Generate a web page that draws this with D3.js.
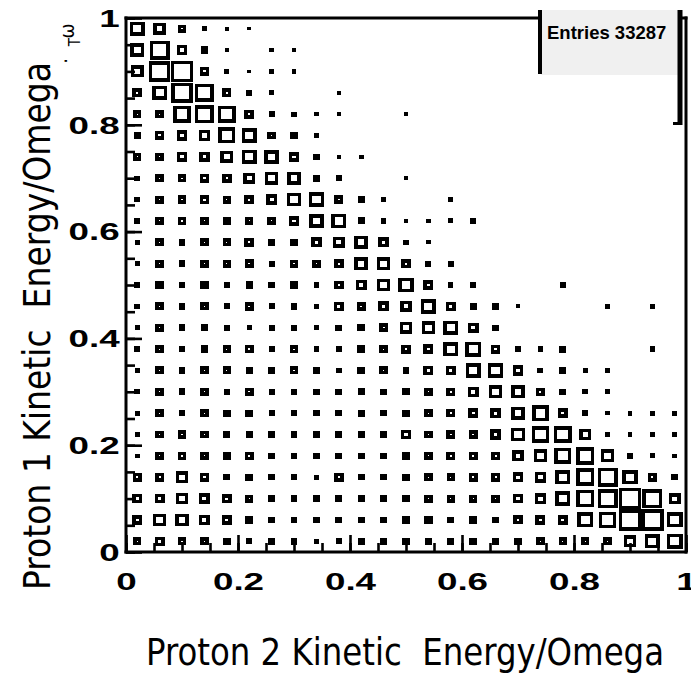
<!DOCTYPE html>
<html>
<head>
<meta charset="utf-8">
<script src="https://cdn.jsdelivr.net/npm/d3@7"></script>
<style>
  body { margin: 0; background: #fff; }
  svg { display: block; }
</style>
</head>
<body>
<div id="graph"></div>
<script>
const width = 691;
const height = 673;

// Bin contents (percent of the fullest bin), 25 x 25 bins.
// r00 is the bottom row (Proton 1 = 0..0.04), first value is Proton 2 = 0..0.04
const r24 = [67, 55, 37, 22, 19, 17, 0, 0, 0, 0, 0, 0, 0, 0, 0, 0, 0, 0, 0, 0, 0, 0, 0, 0, 0];
const r23 = [64, 89, 48, 34, 19, 0, 21, 22, 0, 0, 0, 0, 0, 0, 0, 0, 0, 0, 0, 0, 0, 0, 0, 0, 0];
const r22 = [57, 97, 100, 42, 24, 16, 22, 22, 0, 0, 0, 0, 0, 0, 0, 0, 0, 0, 0, 0, 0, 0, 0, 0, 0];
const r21 = [42, 67, 95, 85, 40, 28, 22, 0, 0, 18, 0, 0, 0, 0, 0, 0, 0, 0, 0, 0, 0, 0, 0, 0, 0];
const r20 = [36, 37, 79, 85, 80, 42, 27, 24, 20, 18, 0, 0, 20, 0, 0, 0, 0, 0, 0, 0, 0, 0, 0, 0, 0];
const r19 = [33, 42, 49, 52, 75, 67, 37, 33, 25, 0, 0, 0, 0, 0, 0, 0, 0, 0, 0, 0, 0, 0, 0, 0, 0];
const r18 = [36, 37, 48, 46, 57, 67, 64, 45, 30, 18, 21, 0, 0, 0, 0, 0, 0, 0, 0, 0, 0, 0, 0, 0, 0];
const r17 = [25, 37, 37, 42, 42, 52, 60, 60, 31, 27, 0, 0, 20, 0, 0, 0, 0, 0, 0, 0, 0, 0, 0, 0, 0];
const r16 = [25, 37, 40, 42, 37, 42, 49, 64, 69, 40, 30, 25, 0, 0, 24, 0, 0, 0, 0, 0, 0, 0, 0, 0, 0];
const r15 = [25, 37, 40, 37, 34, 37, 37, 45, 64, 67, 33, 25, 22, 19, 24, 25, 0, 0, 0, 0, 0, 0, 0, 0, 0];
const r14 = [22, 37, 31, 37, 37, 42, 34, 34, 46, 52, 60, 48, 25, 19, 0, 0, 0, 0, 0, 0, 0, 0, 0, 0, 0];
const r13 = [22, 37, 31, 37, 37, 39, 27, 37, 37, 42, 60, 60, 42, 27, 27, 0, 0, 0, 0, 0, 0, 0, 0, 0, 0];
const r12 = [25, 37, 31, 37, 27, 33, 31, 37, 25, 42, 49, 60, 67, 45, 24, 27, 0, 0, 0, 25, 0, 0, 0, 0, 0];
const r11 = [25, 37, 31, 37, 27, 40, 27, 30, 25, 45, 39, 48, 52, 67, 45, 33, 30, 19, 0, 0, 0, 25, 0, 25, 0];
const r10 = [22, 37, 31, 31, 27, 24, 27, 30, 25, 30, 34, 40, 55, 60, 66, 48, 30, 0, 0, 0, 0, 0, 0, 0, 0];
const r09 = [25, 37, 31, 34, 37, 39, 27, 37, 25, 27, 34, 37, 42, 45, 66, 70, 42, 27, 25, 33, 0, 0, 0, 25, 0];
const r08 = [22, 37, 31, 37, 37, 33, 31, 37, 30, 27, 34, 37, 30, 45, 45, 67, 69, 49, 27, 33, 22, 25, 0, 0, 0];
const r07 = [25, 37, 31, 37, 27, 39, 27, 30, 30, 30, 33, 30, 34, 37, 40, 49, 60, 61, 40, 30, 25, 22, 0, 0, 0];
const r06 = [22, 37, 31, 37, 34, 34, 27, 30, 30, 30, 33, 30, 34, 37, 40, 45, 48, 61, 75, 45, 25, 20, 22, 24, 22];
const r05 = [22, 37, 40, 37, 30, 30, 30, 30, 30, 30, 30, 30, 45, 37, 40, 40, 48, 64, 79, 79, 55, 20, 22, 24, 22];
const r04 = [22, 37, 40, 37, 34, 39, 30, 30, 30, 30, 30, 30, 34, 37, 40, 40, 40, 52, 60, 75, 82, 60, 25, 24, 22];
const r03 = [40, 40, 57, 42, 30, 34, 30, 30, 25, 42, 30, 30, 34, 37, 37, 40, 40, 45, 50, 67, 82, 89, 67, 40, 30];
const r02 = [45, 45, 54, 49, 43, 37, 30, 30, 30, 30, 30, 30, 34, 37, 37, 37, 37, 45, 52, 67, 82, 89, 100, 89, 52];
const r01 = [45, 60, 60, 49, 43, 37, 30, 30, 30, 30, 30, 30, 34, 37, 30, 34, 30, 42, 45, 45, 70, 79, 100, 100, 70];
const r00 = [37, 45, 37, 37, 34, 27, 30, 30, 22, 27, 30, 30, 34, 30, 30, 34, 30, 34, 37, 37, 37, 37, 57, 67, 70];

const majorTicks = [0, 0.2, 0.4, 0.6, 0.8, 1];
const xTitle = 'Proton 2 Kinetic  Energy/Omega';
const yTitle = 'Proton 1 Kinetic  Energy/Omega';
const entries = 33287;
const nBins = 25;

const rows = [r00, r01, r02, r03, r04, r05, r06, r07, r08, r09, r10, r11, r12,
  r13, r14, r15, r16, r17, r18, r19, r20, r21, r22, r23, r24];

const svg = d3.select('#graph')
  .append('svg')
  .attr('width', width)
  .attr('height', height);

const xScale = d3.scaleLinear().domain([0, 1]).range([126, 686]);
const yScale = d3.scaleLinear().domain([0, 1]).range([552, 18]);
const maxCount = d3.max(rows.flat());
const sizeScale = d3.scaleLinear().domain([0, maxCount]).range([0, 1]);

svg.append('clipPath').attr('id', 'frame')
  .append('rect')
  .attr('x', xScale(0)).attr('y', yScale(1))
  .attr('width', xScale(1) - xScale(0))
  .attr('height', yScale(0) - yScale(1));

// Boxes: black outer square with a white hole (hole vanishes for small bins)
const cells = [];
rows.forEach((row, j) => row.forEach((v, i) => { if (v > 0) cells.push({ i, j, v }); }));
const bw = xScale(1 / nBins) - xScale(0);
const bh = yScale(0) - yScale(1 / nBins);
const edge = 3.5;

const boxes = svg.append('g')
  .attr('clip-path', 'url(#frame)')
  .attr('shape-rendering', 'crispEdges')
  .selectAll('g')
  .data(cells)
  .join('g')
  .attr('transform', d => `translate(${xScale((d.i + 0.5) / nBins)},${yScale((d.j + 0.5) / nBins)})`);

boxes.append('rect')
  .attr('x', d => -Math.max(sizeScale(d.v) * bw, 3.5) / 2)
  .attr('y', d => -Math.max(sizeScale(d.v) * bh, 3) / 2)
  .attr('width', d => Math.max(sizeScale(d.v) * bw, 3.5))
  .attr('height', d => Math.max(sizeScale(d.v) * bh, 3))
  .attr('fill', '#000');

boxes.filter(d => sizeScale(d.v) * bw - 2 * edge > 0.8)
  .append('rect')
  .attr('x', d => -(sizeScale(d.v) * bw - 2 * edge) / 2)
  .attr('y', d => -Math.max(sizeScale(d.v) * bh - 2 * edge, 0.8) / 2)
  .attr('width', d => sizeScale(d.v) * bw - 2 * edge)
  .attr('height', d => Math.max(sizeScale(d.v) * bh - 2 * edge, 0.8))
  .attr('fill', '#fff');

// Axes (ticks point into the frame)
const labelFont = '"Liberation Sans", Arial, sans-serif';
const fmt = d3.format('~g');

const yMinor = svg.append('g').attr('transform', 'translate(126,0)')
  .call(d3.axisLeft(yScale).ticks(20).tickSize(-9).tickSizeOuter(0).tickFormat(''));
const yMajor = svg.append('g').attr('transform', 'translate(126,0)')
  .call(d3.axisLeft(yScale).tickValues(majorTicks).tickSize(-16).tickSizeOuter(0).tickFormat(fmt));
const xMinor = svg.append('g').attr('transform', 'translate(0,552)')
  .call(d3.axisBottom(xScale).ticks(20).tickSize(-9).tickSizeOuter(0).tickFormat(''));
const xMajor = svg.append('g').attr('transform', 'translate(0,552)')
  .call(d3.axisBottom(xScale).tickValues(majorTicks).tickSize(-17).tickSizeOuter(0).tickFormat(fmt));

[yMinor, yMajor, xMinor, xMajor].forEach(g => {
  g.select('.domain').remove();
  g.selectAll('line').attr('stroke', '#000').attr('stroke-width', 2.6);
});

yMajor.selectAll('text')
  .attr('font-family', labelFont).attr('font-weight', 'bold').attr('font-size', 23)
  .attr('fill', '#000')
  .attr('x', -4).attr('dy', '0.36em')
  .attr('transform', 'scale(1.6,1)');
xMajor.selectAll('text')
  .attr('font-family', labelFont).attr('font-weight', 'bold').attr('font-size', 23)
  .attr('fill', '#000')
  .attr('y', 38).attr('dy', null)
  .attr('transform', 'scale(1.6,1)');

// Frame
const frame = svg.append('g').attr('stroke', '#000').attr('stroke-width', 3);
frame.append('line').attr('x1', 126).attr('x2', 126).attr('y1', 16.5).attr('y2', 553.5);
frame.append('line').attr('x1', 124.5).attr('x2', 687.5).attr('y1', 552).attr('y2', 552);
frame.append('line').attr('x1', 124.5).attr('x2', 541).attr('y1', 18).attr('y2', 18);
frame.append('line').attr('x1', 680).attr('x2', 687.5).attr('y1', 18).attr('y2', 18);
frame.append('line').attr('x1', 686).attr('x2', 686).attr('y1', 16.5).attr('y2', 553.5);

// Stats box
const stats = svg.append('g');
stats.append('rect')
  .attr('x', 541).attr('y', 10).attr('width', 137).attr('height', 65)
  .attr('fill', '#f0f0f0');
stats.append('line').attr('x1', 540).attr('x2', 540).attr('y1', 10).attr('y2', 74)
  .attr('stroke', '#000').attr('stroke-width', 4);
stats.append('line').attr('x1', 680).attr('x2', 680).attr('y1', 10).attr('y2', 125)
  .attr('stroke', '#000').attr('stroke-width', 5);
stats.append('line').attr('x1', 673).attr('x2', 682).attr('y1', 123.5).attr('y2', 123.5)
  .attr('stroke', '#000').attr('stroke-width', 3);
stats.append('text')
  .attr('x', 547).attr('y', 39)
  .attr('font-family', labelFont).attr('font-weight', 'bold').attr('font-size', 18.5)
  .attr('fill', '#000')
  .text('Entries ' + entries);

// Axis titles
const titleFont = '"DejaVu Sans Condensed", "DejaVu Sans", sans-serif';
svg.append('text')
  .attr('x', 146).attr('y', 665)
  .attr('font-family', titleFont).attr('font-size', 37)
  .attr('textLength', 518).attr('lengthAdjust', 'spacingAndGlyphs')
  .attr('fill', '#000')
  .style('white-space', 'pre')
  .text(xTitle);
svg.append('text')
  .attr('transform', 'translate(50,590) rotate(-90)')
  .attr('font-family', titleFont).attr('font-size', 37)
  .attr('textLength', 528).attr('lengthAdjust', 'spacingAndGlyphs')
  .attr('fill', '#000')
  .style('white-space', 'pre')
  .text(yTitle);

// stray symbols next to the y title
svg.append('text')
  .attr('transform', 'translate(74,31) rotate(-90)')
  .attr('font-family', titleFont).attr('font-size', 20)
  .attr('text-anchor', 'middle').attr('fill', '#000')
  .text('ω');
svg.append('text')
  .attr('transform', 'translate(80,42) rotate(-90)')
  .attr('font-family', titleFont).attr('font-size', 15)
  .attr('text-anchor', 'middle').attr('fill', '#000')
  .text('T');
svg.append('text')
  .attr('transform', 'translate(73,61) rotate(-90)')
  .attr('font-family', titleFont).attr('font-size', 20)
  .attr('text-anchor', 'middle').attr('fill', '#000')
  .text('·');
</script>
</body>
</html>
